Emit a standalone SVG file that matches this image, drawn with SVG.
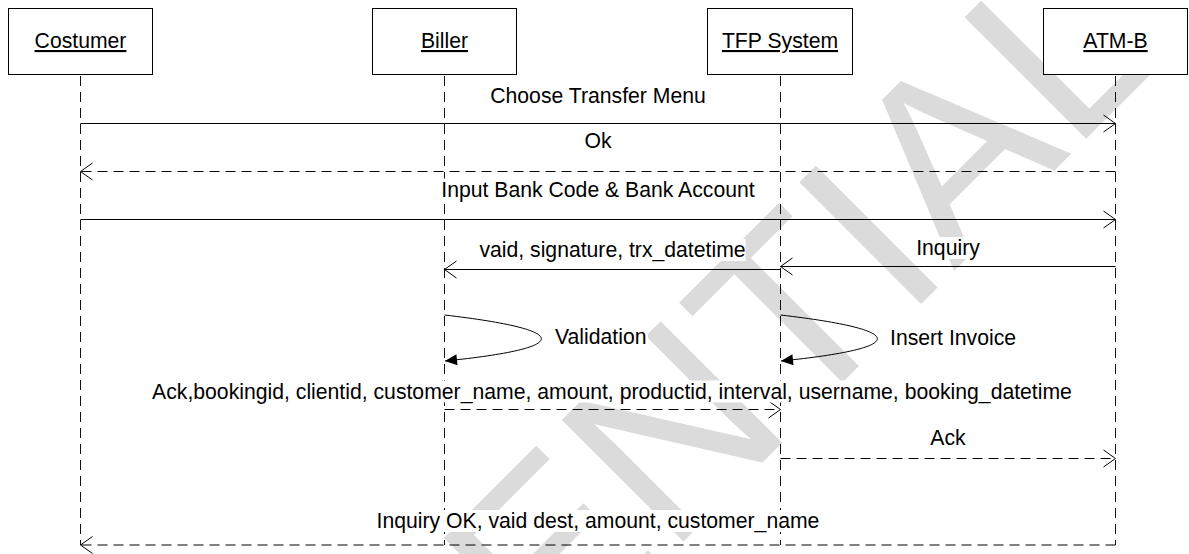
<svg xmlns="http://www.w3.org/2000/svg" width="1189" height="554" viewBox="0 0 1189 554">
<style>
.box{fill:#fff;stroke:#000;stroke-width:1}
.name{font-family:"Liberation Sans",Arial,sans-serif;font-size:21.2px;fill:#000;text-anchor:middle;text-decoration:underline}
.life{stroke:#111;stroke-width:1;stroke-dasharray:10 6;fill:none}
.msg{stroke:#000;stroke-width:1;fill:none;marker-end:url(#open)}
.dash{stroke-dasharray:10 6}
.self{stroke:#000;stroke-width:1;fill:none;marker-end:url(#filled)}
.lbl{font-family:"Liberation Sans",Arial,sans-serif;font-size:21.2px;fill:#000;text-anchor:middle}
.lbls{font-family:"Liberation Sans",Arial,sans-serif;font-size:21.2px;fill:#000}
.bg{fill:#fff}
.wm{font-family:"Liberation Sans",Arial,sans-serif;font-size:250px;fill:#dbdbdb}
</style>
<defs>
<marker id="open" viewBox="0 0 14 20" refX="13" refY="10" markerWidth="14" markerHeight="20" markerUnits="userSpaceOnUse" orient="auto">
<path d="M1,1.5 L13,10 L1,18.5" fill="none" stroke="#000" stroke-width="1"/>
</marker>
<marker id="filled" viewBox="0 0 14 12" refX="13" refY="6" markerWidth="14" markerHeight="12" markerUnits="userSpaceOnUse" orient="auto">
<path d="M1,0.5 L13,6 L1,11.5 Z" fill="#000"/>
</marker>
</defs>
<rect width="1189" height="554" fill="#fff"/>
<text class="wm" transform="translate(1170,55) rotate(-45)" text-anchor="end">CONFIDENTIAL</text>

<g id="lifelines">
<line class="life" x1="80.5" y1="76" x2="80.5" y2="545"/>
<line class="life" x1="444.5" y1="76" x2="444.5" y2="545"/>
<line class="life" x1="780.5" y1="76" x2="780.5" y2="545"/>
<line class="life" x1="1115.5" y1="76" x2="1115.5" y2="545"/>
</g>

<g id="node-costumer">
<rect class="box" x="8.5" y="8.5" width="144" height="66"/>
<text class="name" x="80.5" y="48">Costumer</text>
</g>
<g id="node-biller">
<rect class="box" x="372.5" y="8.5" width="144" height="66"/>
<text class="name" x="444.5" y="48">Biller</text>
</g>
<g id="node-tfp">
<rect class="box" x="707.5" y="8.5" width="145" height="66"/>
<text class="name" x="780" y="48">TFP System</text>
</g>
<g id="node-atmb">
<rect class="box" x="1043.5" y="8.5" width="144" height="66"/>
<text class="name" x="1115.5" y="48">ATM-B</text>
</g>

<g id="connectors">
<line class="msg" x1="80.5" y1="123.5" x2="1115.5" y2="123.5"/>
<line class="msg dash" x1="1115.5" y1="171.5" x2="80.5" y2="171.5"/>
<line class="msg" x1="80.5" y1="219.5" x2="1115.5" y2="219.5"/>
<line class="msg" x1="1115.5" y1="266.5" x2="780.5" y2="266.5"/>
<line class="msg" x1="780.5" y1="269.5" x2="444.5" y2="269.5"/>
<path class="self" d="M444.5,315 C573.5,330 573.5,348 445,361"/>
<path class="self" d="M780.5,315 C909.5,330 909.5,348 781,361"/>
<line class="msg dash" x1="444.5" y1="409.5" x2="780.5" y2="409.5"/>
<line class="msg dash" x1="780.5" y1="458.5" x2="1115.5" y2="458.5"/>
<line class="msg dash" x1="1115.5" y1="545" x2="80.5" y2="545"/>
</g>

<g id="labels">
<rect class="bg" x="489.6" y="84.5" width="216.8" height="22"/>
<text class="lbl" x="598" y="102.5">Choose Transfer Menu</text>
<rect class="bg" x="584.5" y="130" width="27.1" height="22"/>
<text class="lbl" x="598" y="148">Ok</text>
<rect class="bg" x="440.6" y="178.5" width="314.7" height="22"/>
<text class="lbl" x="598" y="196.5">Input Bank Code &amp; Bank Account</text>
<rect class="bg" x="916.2" y="237" width="63.6" height="22"/>
<text class="lbl" x="948" y="255">Inquiry</text>
<rect class="bg" x="479.3" y="239" width="266.3" height="22"/>
<text class="lbl" x="612.5" y="257">vaid, signature, trx_datetime</text>
<rect class="bg" x="555" y="326" width="93.1" height="22"/>
<text class="lbls" x="555" y="344">Validation</text>
<rect class="bg" x="890" y="327" width="126.1" height="22"/>
<text class="lbls" x="890" y="345">Insert Invoice</text>
<rect class="bg" x="151.4" y="380.5" width="921.2" height="22"/>
<text class="lbl" x="612" y="398.5">Ack,bookingid, clientid, customer_name, amount, productid, interval, username, booking_datetime</text>
<rect class="bg" x="930.3" y="427" width="35.3" height="22"/>
<text class="lbl" x="948" y="445">Ack</text>
<rect class="bg" x="376.5" y="510" width="443" height="22"/>
<text class="lbl" x="598" y="528">Inquiry OK, vaid dest, amount, customer_name</text>
</g>
</svg>
